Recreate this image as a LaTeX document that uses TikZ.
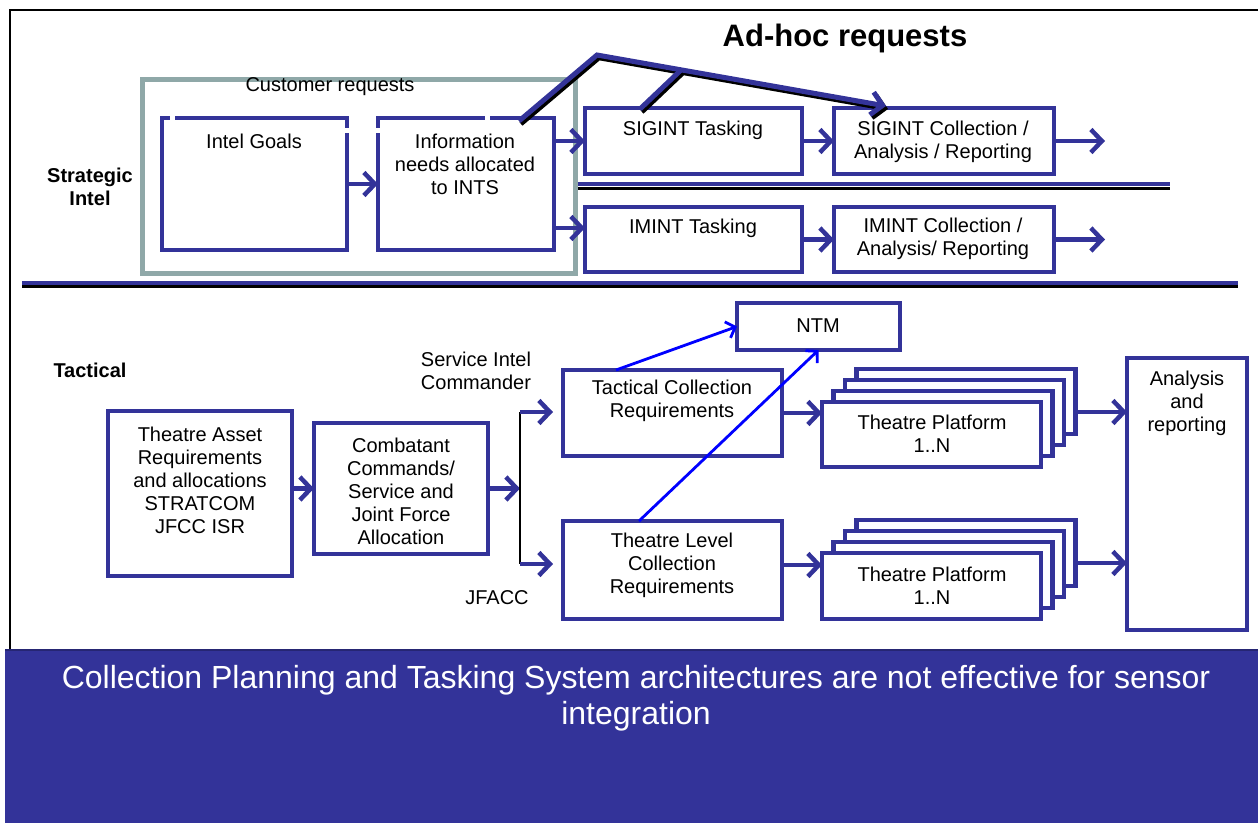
\documentclass[tikz,border=0pt]{standalone}
\usepackage{fontspec}
\setmainfont{Liberation Sans}
\usetikzlibrary{arrows.meta}
\definecolor{navy}{RGB}{51,51,153}
\definecolor{tealgray}{RGB}{143,168,168}
\newcommand\bx[5]{\node[box, minimum width=#4pt, minimum height=#5pt] (#1) at (#2,#3) {};}
\begin{document}
\begin{tikzpicture}[x=1pt,y=-1pt,
  box/.style={draw=navy, line width=4.5pt, fill=white, inner sep=0pt, outer sep=0pt, anchor=north west},
  txt/.style={font=\fontsize{20}{23}\selectfont, align=center, inner sep=0pt},
  btxt/.style={font=\fontsize{20}{23}\selectfont\bfseries, align=center, inner sep=0pt},
  arr/.style={draw=navy, line width=4.5pt, -{Straight Barb[length=11pt,width=23pt]}},
  thinarr/.style={draw=blue, line width=2.8pt, -{Straight Barb[length=8pt,width=17pt]}},
  gap/.style={fill=white},
]
\useasboundingbox (0,0) rectangle (1258,823);
% frame
\draw[black, line width=1.5pt] (1258,10) -- (10,10) -- (10,650);
% customer requests box
\node[draw=tealgray, line width=4.5pt, inner sep=0pt, minimum width=433pt, minimum height=194pt, anchor=north west] (cust) at (140,77) {};
\node[txt] at (330,87) {Customer requests};
% strategic boxes
\bx{goals}{162}{118}{185}{132}
\bx{info}{378}{118}{176}{132}
\bx{sigt}{585}{108}{217}{66}
\bx{sigc}{834}{108}{220}{66}
\bx{imt}{585}{207}{217}{65}
\bx{imc}{834}{207}{220}{65}
% gaps in box outlines
\fill[gap] (170,114) rectangle (175,122);
\fill[gap] (343,128) rectangle (351,133);
\fill[gap] (374,128) rectangle (382,133);
\fill[gap] (485,114) rectangle (490,122);
% texts
\node[btxt] at (90,187) {Strategic\\Intel};
\node[txt] at (254,141) {Intel Goals};
\node[txt] at (465,164) {Information\\needs allocated\\to INTS};
\node[txt] at (693,130) {SIGINT Tasking};
\node[txt] at (943,142) {SIGINT Collection /\\Analysis / Reporting};
\node[txt] at (693,228) {IMINT Tasking};
\node[txt] at (943,239) {IMINT Collection /\\Analysis/ Reporting};
\node[font=\fontsize{31}{36}\selectfont\bfseries, inner sep=0pt] at (845,38) {Ad-hoc requests};
% separators
\draw[navy, line width=4pt] (578,184) -- (1170,184);
\draw[black, line width=3pt] (578,188) -- (1170,188);
\draw[navy, line width=4pt] (22,282.5) -- (1238,282.5);
\draw[black, line width=3pt] (22,286.5) -- (1238,286.5);
% strategic arrows
\coordinate (sigout) at (1105,141);
\coordinate (imout) at (1105,239.5);
\draw[arr] (goals.east) -- (info.west);
\draw[arr] (info.east |- sigt.west) -- (sigt.west);
\draw[arr] (info.east |- 0,228) -- (imt.west |- 0,228);
\draw[arr] (sigt.east) -- (sigc.west);
\draw[arr] (imt.east) -- (imc.west);
\draw[arr] (sigc.east) -- (sigout);
\draw[arr] (imc.east) -- (imout);
% ad-hoc line
\coordinate (ah0) at (519,121);
\coordinate (ah1) at (597,55);
\coordinate (ah2) at (886,106);
\coordinate (ab0) at (640,109);
\coordinate (ab1) at (681,70);
\draw[black, line width=4.5pt, -{Straight Barb[length=11pt,width=23pt]}] ([shift={(2,3)}]ah0) -- ([shift={(2,3)}]ah1) -- ([shift={(2,3)}]ah2);
\draw[black, line width=4.5pt] ([shift={(2,3)}]ab0) -- ([shift={(2,3)}]ab1);
\draw[arr, line width=5pt] (ah0) -- (ah1) -- (ah2);
\draw[navy, line width=5pt] (ab0) -- (ab1);
% tactical
\node[btxt] at (90,370) {Tactical};
\bx{ntm}{737}{303}{163}{47}
\bx{tcr}{563}{370}{219}{86}
\bx{tlcr}{563}{521}{219}{98}
\bx{tasset}{108}{411}{184}{165}
\bx{comb}{314}{423}{174}{131}
\bx{anal}{1127}{358}{120}{272}
\bx{plat1d}{856.5}{369}{219}{65}
\bx{plat1c}{845}{380}{219}{65}
\bx{plat1b}{833.5}{391}{219}{65}
\bx{plat1}{822}{402}{219}{65}
\bx{plat2d}{856.5}{520}{219}{66}
\bx{plat2c}{845}{531}{219}{66}
\bx{plat2b}{833.5}{542}{219}{66}
\bx{plat2}{822}{553}{219}{66}
\node[txt] at (818,326) {NTM};
\node[txt] at (476,371) {Service Intel\\Commander};
\node[txt] at (672,401) {Tactical Collection\\Requirements};
\node[txt] at (672,565) {Theatre Level\\Collection\\Requirements};
\node[txt] at (497,598) {JFACC};
\node[txt] at (200,480) {Theatre Asset\\Requirements\\and allocations\\STRATCOM\\JFCC ISR};
\node[txt] at (401,491) {Combatant\\Commands/\\Service and\\Joint Force\\Allocation};
\node[txt] at (932,434) {Theatre Platform\\1..N};
\node[txt] at (932,586) {Theatre Platform\\1..N};
\node[txt] at (1187,403) {Analysis\\and\\reporting};
% tactical connectors
\coordinate (br) at (520,488.5);
\coordinate (brt) at (520,412);
\coordinate (brb) at (520,564);
\coordinate (tin) at (553,412);
\coordinate (bin) at (553,564);
\draw[arr] (tasset.east |- comb.west) -- (comb.west);
\draw[arr] (comb.east) -- (br);
\draw[black, line width=2pt] (brt) -- (brb);
\draw[arr] (brt) -- (tin);
\draw[arr] (brb) -- (bin);
\draw[arr] (tcr.east) -- (plat1.west |- tcr.east);
\draw[arr] (tlcr.east |- 0,565) -- (plat2.west |- 0,565);
\draw[arr] (plat1d.east |- 0,412) -- (anal.west |- 0,412);
\draw[arr] (plat2d.east |- 0,563) -- (anal.west |- 0,563);
\coordinate (a1) at (616,370);
\coordinate (a2) at (639,521);
\draw[thinarr] (a1) -- (ntm.west);
\draw[thinarr] (a2) -- (ntm.south);
% banner
\fill[navy] (5,650) rectangle (1258,823);
\draw[navy!75!black, line width=1.5pt] (5,650) -- (1258,650);
\node[font=\fontsize{32}{36}\selectfont, text=white, align=center, inner sep=0pt] (banner) at (636,698) {Collection Planning and Tasking System architectures are not effective for sensor\\integration};
\end{tikzpicture}
\end{document}
